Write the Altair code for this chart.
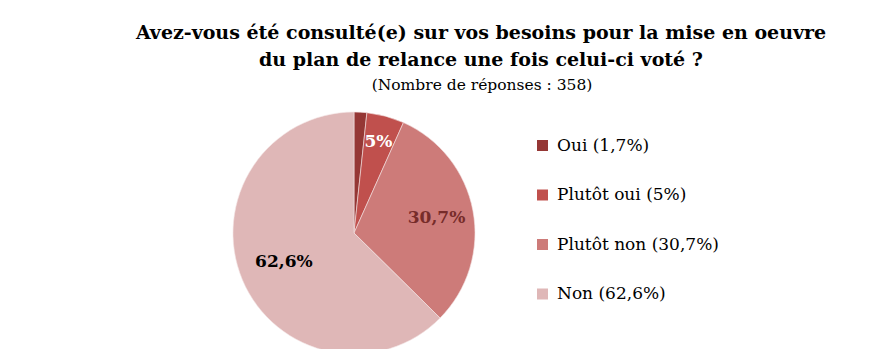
import altair as alt
import pandas as pd
import math

categories = ["Oui", "Plutôt oui", "Plutôt non", "Non"]
values = [1.7, 5, 30.7, 62.6]
slice_labels = ["", "5%", "30,7%", "62,6%"]
legend_labels = ["Oui (1,7%)", "Plutôt oui (5%)", "Plutôt non (30,7%)", "Non (62,6%)"]
colors = ["#953735", "#c0504d", "#cd7b79", "#dfb7b7"]
label_colors = ["#ffffff", "#ffffff", "#772c2a", "#000000"]
title_lines = ["Avez-vous été consulté(e) sur vos besoins pour la mise en oeuvre",
               "du plan de relance une fois celui-ci voté ?"]
subtitle = "(Nombre de réponses : 358)"

df = pd.DataFrame({
    "cat": categories,
    "value": values,
    "order": list(range(len(categories))),
    "label": slice_labels,
    "legend": legend_labels,
})

FONT = "DejaVu Serif"
CX, CY, R = 346, 225, 121

base = alt.Chart(df)

pie = base.mark_arc(outerRadius=R, stroke="#f4e4e4", strokeWidth=0.6).encode(
    theta=alt.Theta("value:Q", stack=True),
    color=alt.Color(
        "legend:N",
        scale=alt.Scale(domain=legend_labels, range=colors),
        sort=legend_labels,
        legend=alt.Legend(
            title=None, orient="none", legendX=526, legendY=129,
            symbolType="square", symbolSize=121, symbolStrokeWidth=0,
            labelFont=FONT, labelFontSize=17, labelColor="#000000",
            labelOffset=6, rowPadding=31.5, labelLimit=300,
        ),
    ),
    order=alt.Order("order:Q"),
    x=alt.value(CX),
    y=alt.value(CY),
)

texts = base.transform_window(
    cum="sum(value)", sort=[alt.SortField("order")]
).transform_calculate(
    mid="datum.cum - datum.value / 2",
    r="datum.cat == 'Plutôt oui' ? 94 : (datum.cat == 'Plutôt non' ? 84 : 76)",
).mark_text(font=FONT, fontSize=17, fontWeight="bold").encode(
    theta=alt.Theta("mid:Q", stack=None, scale=alt.Scale(domain=[0, 100], range=[0, 2 * math.pi])),
    radius=alt.Radius("r:Q", scale=None),
    text="label:N",
    fill=alt.Fill("cat:N", scale=alt.Scale(domain=categories, range=label_colors), legend=None),
    x=alt.value(CX),
    y=alt.value(CY),
)

tdf = pd.DataFrame({"t": title_lines + [subtitle], "i": [0, 1, 2]})
title1 = alt.Chart(tdf).transform_filter("datum.i < 2").mark_text(
    font=FONT, fontSize=19, fontWeight="bold", color="#000000", baseline="middle"
).encode(
    text="t:N",
    x=alt.value(473),
    y=alt.Y("i:Q", scale=alt.Scale(domain=[0, 1], range=[25, 52]), axis=None),
)
title2 = alt.Chart(tdf).transform_filter("datum.i == 2").mark_text(
    font=FONT, fontSize=15.5, color="#000000", baseline="middle"
).encode(
    text="t:N",
    x=alt.value(474),
    y=alt.value(77),
)

chart = alt.layer(pie, texts, title1, title2).resolve_scale(
    color="independent", fill="independent", y="independent", theta="independent"
).properties(
    width=874, height=341, autosize=alt.AutoSizeParams(type="none"), padding=0,
    background="white",
).configure_view(stroke=None)

chart.save("out.html", embed_options={"renderer": "svg", "actions": False})
